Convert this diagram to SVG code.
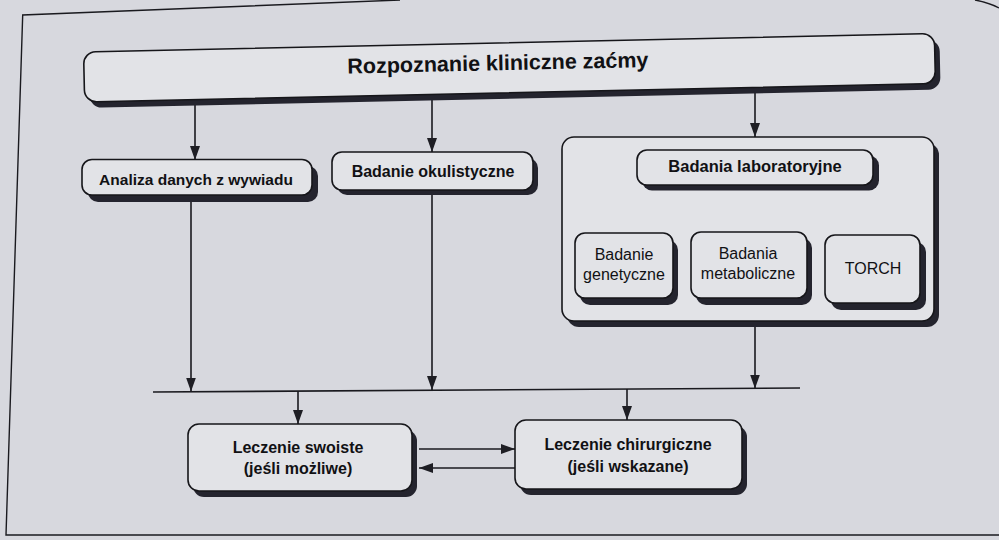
<svg xmlns="http://www.w3.org/2000/svg" width="999" height="540" viewBox="0 0 999 540">
<defs>
<marker id="ah" markerWidth="14" markerHeight="10" refX="14" refY="5" orient="auto" markerUnits="userSpaceOnUse">
<path d="M0,0 L14,5 L0,10 z" fill="#1e1e24"/>
</marker>
<style>
.box{fill:#e2e3e7;stroke:#16161a;stroke-width:1.6}
.sh{fill:#24242e;stroke:none}
.ln{stroke:#1a1a1f;stroke-width:1.6;fill:none}
.fr{stroke:#1a1a1f;stroke-width:1.4;fill:none}
.tb{font-family:"Liberation Sans",Arial,sans-serif;font-weight:bold;fill:#111114;text-anchor:middle}
.tr{font-family:"Liberation Sans",Arial,sans-serif;font-size:16px;fill:#111114;text-anchor:middle}
</style>
</defs>
<rect x="0" y="0" width="999" height="540" fill="#d7d8de"/>
<path class="fr" d="M400 0 L22.7 15 L6 535 L999 535"/>
<path class="fr" d="M975 0 Q990 3 999 8"/>

<g id="connectors">
<line class="ln" x1="195" y1="98" x2="195" y2="160" marker-end="url(#ah)"/>
<line class="ln" x1="432" y1="93" x2="432" y2="152" marker-end="url(#ah)"/>
<line class="ln" x1="755" y1="86" x2="755" y2="137" marker-end="url(#ah)"/>
<line class="ln" x1="191" y1="196" x2="191" y2="391.5" marker-end="url(#ah)"/>
<line class="ln" x1="432" y1="191" x2="432" y2="390" marker-end="url(#ah)"/>
<line class="ln" x1="755" y1="322" x2="755" y2="388.5" marker-end="url(#ah)"/>
<line class="ln" x1="153" y1="392" x2="800" y2="388"/>
<line class="ln" x1="298" y1="391" x2="298" y2="424" marker-end="url(#ah)"/>
<line class="ln" x1="627" y1="389" x2="627" y2="420" marker-end="url(#ah)"/>
<line class="ln" x1="419" y1="449" x2="515" y2="449" marker-end="url(#ah)"/>
<line class="ln" x1="515" y1="468" x2="419" y2="468" marker-end="url(#ah)"/>
</g>

<g id="n-rozpoznanie" transform="rotate(-1.24 509.5 67.75)">
<rect class="sh" x="89" y="48.75" width="851" height="50" rx="12"/>
<rect class="box" x="84" y="42.75" width="851" height="50" rx="12"/>
<text class="tb" x="498" y="70" font-size="21.5">Rozpoznanie kliniczne zaćmy</text>
</g>

<g id="n-analiza">
<rect class="sh" x="88" y="166" width="230" height="36" rx="10"/>
<rect class="box" x="82" y="159.5" width="230" height="35.5" rx="10"/>
<text class="tb" x="196" y="185" font-size="15.5">Analiza danych z wywiadu</text>
</g>

<g id="n-okulistyczne">
<rect class="sh" x="337" y="158" width="201" height="37" rx="10"/>
<rect class="box" x="332" y="152" width="201" height="38" rx="10"/>
<text class="tb" x="433" y="177" font-size="16">Badanie okulistyczne</text>
</g>

<g id="n-lab-container">
<rect class="sh" x="567" y="143" width="372" height="184" rx="12"/>
<rect class="box" x="562" y="137" width="372" height="184" rx="12"/>
</g>

<g id="n-laboratoryjne">
<rect class="sh" x="642" y="155.5" width="237" height="35" rx="10"/>
<rect class="box" x="637" y="150" width="236" height="35" rx="10"/>
<text class="tb" x="755" y="172" font-size="16.5">Badania laboratoryjne</text>
</g>

<g id="n-genetyczne">
<rect class="sh" x="580" y="240" width="98" height="65" rx="10"/>
<rect class="box" x="575" y="233" width="98" height="65" rx="10"/>
<text class="tr" x="624" y="260">Badanie</text>
<text class="tr" x="624" y="280">genetyczne</text>
</g>

<g id="n-metaboliczne">
<rect class="sh" x="696" y="238" width="116" height="67" rx="10"/>
<rect class="box" x="691" y="232" width="116" height="66" rx="10"/>
<text class="tr" x="748" y="259">Badania</text>
<text class="tr" x="748" y="279">metaboliczne</text>
</g>

<g id="n-torch">
<rect class="sh" x="831" y="242" width="95" height="68" rx="10"/>
<rect class="box" x="825" y="235" width="95" height="68" rx="10"/>
<text class="tr" x="873" y="274">TORCH</text>
</g>

<g id="n-swoiste">
<rect class="sh" x="193" y="430" width="224" height="67" rx="11"/>
<rect class="box" x="188" y="424" width="224" height="67" rx="11"/>
<text class="tb" x="298" y="453" font-size="16">Leczenie swoiste</text>
<text class="tb" x="298" y="474" font-size="16">(jeśli możliwe)</text>
</g>

<g id="n-chirurgiczne">
<rect class="sh" x="520" y="426" width="227" height="69" rx="11"/>
<rect class="box" x="515" y="420" width="227" height="69" rx="11"/>
<text class="tb" x="628" y="450" font-size="16">Leczenie chirurgiczne</text>
<text class="tb" x="628" y="472" font-size="16">(jeśli wskazane)</text>
</g>
</svg>
